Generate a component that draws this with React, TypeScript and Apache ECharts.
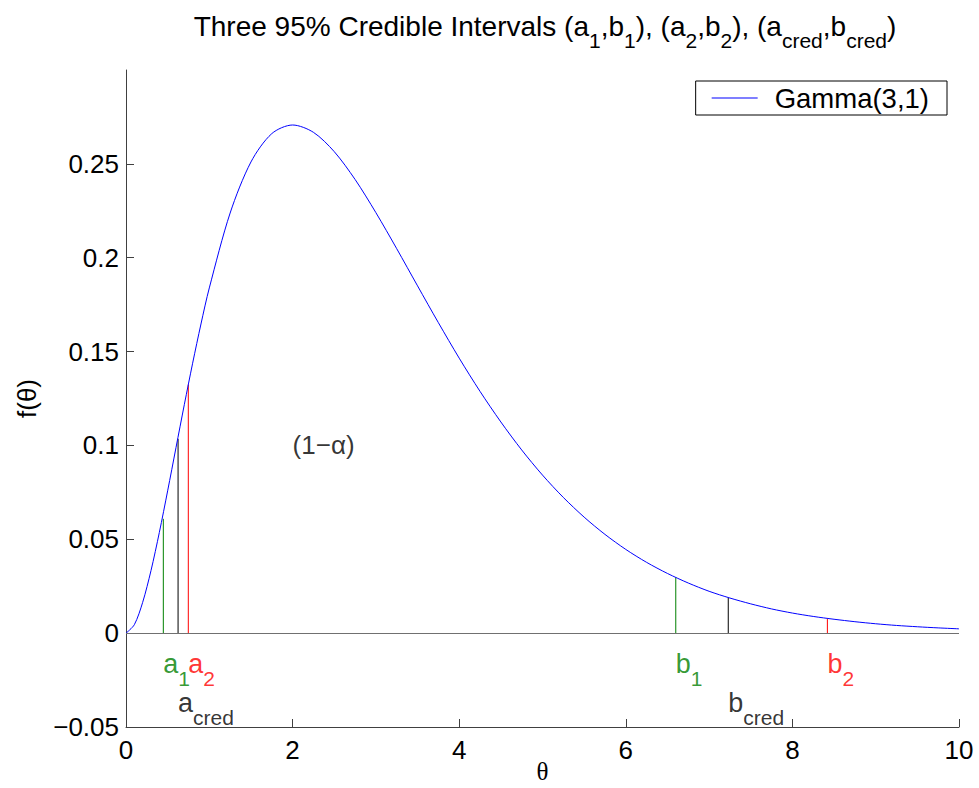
import React, { useEffect, useRef } from "react";
import * as echarts from "echarts";

// Gamma(3,1) density
const thetaValues = [
  0, 0.1, 0.2, 0.3, 0.4, 0.5, 0.6, 0.7, 0.8, 0.9, 1, 1.25, 1.5, 1.75, 2, 2.25, 2.5,
  2.75, 3, 3.25, 3.5, 3.75, 4, 4.25, 4.5, 4.75, 5, 5.25, 5.5, 5.75, 6, 6.25, 6.5,
  6.75, 7, 7.25, 7.5, 7.75, 8, 8.25, 8.5, 8.75, 9, 9.25, 9.5, 9.75, 10,
];
const densityValues = [
  0, 0.0045, 0.0164, 0.0333, 0.0536, 0.0758, 0.0988, 0.1217, 0.1438, 0.1647, 0.1839,
  0.2238, 0.251, 0.2661, 0.2707, 0.2668, 0.2565, 0.2417, 0.224, 0.2048, 0.185,
  0.1654, 0.1465, 0.1288, 0.1125, 0.0976, 0.0842, 0.0723, 0.0618, 0.0526, 0.0446,
  0.0377, 0.0318, 0.0267, 0.0223, 0.0187, 0.0156, 0.0129, 0.0107, 0.0089, 0.0074,
  0.0061, 0.005, 0.0041, 0.0034, 0.0028, 0.0023,
];

// interval bounds
const boundLetters = ["a", "a", "a", "b", "b", "b"];
const boundSubs = ["1", "2", "cred", "1", "2", "cred"];
const boundTheta = [0.448, 0.748, 0.625, 6.6, 8.42, 7.23];
const boundDensity = [0.0609, 0.1324, 0.1035, 0.0297, 0.0075, 0.0188];

const yTickValues = [-0.05, 0, 0.05, 0.1, 0.15, 0.2, 0.25];
const xTickValues = [0, 2, 4, 6, 8, 10];

const annotationText = "(1−α)";
const annotationPoint = [2.0, 0.1];

const SANS = '"Liberation Sans", Arial, Helvetica, sans-serif';
const SERIF = '"Liberation Serif", "DejaVu Serif", Times, serif';
const FS = 26;
const LBLFS = 27;
const SUBFS = 21;
const SUBPAD = 28;
const AXIS_COLOR = "#404040";

const colorFor = (sub: string) =>
  sub === "1" ? "#008000" : sub === "2" ? "#ff0000" : "#000000";
const rowFor = (sub: string) => (sub === "cred" ? -0.0373 : -0.0165);

export default function App() {
  const ref = useRef<HTMLDivElement>(null);

  useEffect(() => {
    if (!ref.current) return;
    const chart = echarts.init(ref.current, undefined, { renderer: "svg" });

    const curve = thetaValues.map((t, i) => [t, densityValues[i]]);

    const boundSeries = boundTheta.map((t, i) => ({
      type: "line",
      data: [
        [t, 0],
        [t, boundDensity[i]],
      ],
      symbol: "none",
      silent: true,
      lineStyle: { color: colorFor(boundSubs[i]), width: 1 },
      z: 3,
    }));

    const labelSeries = boundTheta.map((t, i) => {
      const c = colorFor(boundSubs[i]);
      return {
        type: "scatter",
        data: [[t, rowFor(boundSubs[i])]],
        symbolSize: 0,
        silent: true,
        itemStyle: { color: "transparent" },
        label: {
          show: true,
          position: "right",
          distance: 0,
          formatter: `{m|${boundLetters[i]}}{s|${boundSubs[i]}}`,
          rich: {
            m: { fontSize: LBLFS, fontFamily: SANS, color: c },
            s: { fontSize: SUBFS, fontFamily: SANS, color: c, padding: [SUBPAD, 0, 0, 0] },
          },
        },
      };
    });

    const option: any = {
      animation: false,
      backgroundColor: "#ffffff",
      grid: {
        left: 126,
        right: 20,
        top: 70,
        bottom: 61,
        containLabel: false,
        outerBoundsMode: "none",
      },
      legend: {
        data: [{ name: "Gamma(3,1)", icon: "rect" }],
        right: 32,
        top: 81,
        padding: [3, 18, 3, 16],
        itemWidth: 46,
        itemHeight: 1,
        borderColor: "#000",
        borderWidth: 1,
        borderRadius: 0,
        backgroundColor: "#fff",
        selectedMode: false,
        itemStyle: { color: "#0000ff", borderWidth: 0 },
        textStyle: { fontSize: 27.5, fontFamily: SANS, color: "#000", padding: [0, 0, 0, 12] },
      },
      graphic: [
        {
          type: "text",
          x: 545,
          y: 26,
          style: {
            text:
              "Three 95% Credible Intervals (a{s|1},b{s|1}), (a{s|2},b{s|2}), (a{s|cred},b{s|cred})",
            fontSize: 28,
            fontFamily: SANS,
            fill: "#000",
            align: "center",
            verticalAlign: "middle",
            rich: {
              s: { fontSize: SUBFS, fontFamily: SANS, fill: "#000", padding: [SUBPAD, 0, 0, 0] },
            },
          },
        },
      ],
      xAxis: {
        type: "value",
        min: 0,
        max: 10,
        interval: 2,
        name: "θ",
        nameLocation: "middle",
        nameGap: 32,
        nameMoveOverlap: false,
        nameTextStyle: { fontSize: 25, fontFamily: SERIF, color: "#000" },
        axisLine: { show: true, onZero: false, lineStyle: { color: AXIS_COLOR, width: 1 } },
        axisTick: { show: true, inside: true, length: 8, lineStyle: { color: AXIS_COLOR } },
        axisLabel: {
          show: true,
          margin: 10,
          fontSize: FS,
          fontFamily: SANS,
          color: "#000",
          customValues: xTickValues,
          formatter: (v: number) => String(v),
        },
        splitLine: { show: false },
      },
      yAxis: {
        type: "value",
        min: -0.05,
        max: 0.3,
        interval: 0.05,
        name: "f(θ)",
        nameLocation: "middle",
        nameRotate: 90,
        nameGap: 86,
        nameMoveOverlap: false,
        nameTextStyle: { fontSize: FS, fontFamily: SANS, color: "#000" },
        axisLine: { show: true, onZero: false, lineStyle: { color: AXIS_COLOR, width: 1 } },
        axisTick: {
          show: true,
          inside: true,
          length: 8,
          lineStyle: { color: AXIS_COLOR },
          customValues: yTickValues,
        },
        axisLabel: {
          show: true,
          margin: 7,
          fontSize: FS,
          fontFamily: SANS,
          color: "#000",
          customValues: yTickValues,
          formatter: (v: number) => {
            if (v > 0.27) return "";
            const s = String(Number(Math.abs(v).toFixed(2)));
            return v < -1e-9 ? "−" + s : s;
          },
        },
        splitLine: { show: false },
      },
      series: [
        {
          name: "Gamma(3,1)",
          type: "line",
          data: curve,
          symbol: "none",
          smooth: 0.3,
          lineStyle: { color: "#0000ff", width: 1 },
          itemStyle: { color: "#0000ff" },
          z: 4,
          markLine: {
            silent: true,
            symbol: ["none", "none"],
            label: { show: false },
            lineStyle: { color: "#707070", width: 1, type: "solid" },
            data: [{ yAxis: 0 }],
          },
        },
        ...boundSeries,
        ...labelSeries,
        {
          type: "scatter",
          data: [annotationPoint],
          symbolSize: 0,
          silent: true,
          itemStyle: { color: "transparent" },
          label: {
            show: true,
            position: "right",
            distance: 0,
            formatter: annotationText,
            fontSize: FS,
            fontFamily: SANS,
            color: "#000",
          },
        },
      ],
    };

    chart.setOption(option);
    return () => chart.dispose();
  }, []);

  return (
    <div
      ref={ref}
      style={{ position: "absolute", left: 0, top: 0, width: 979, height: 788 }}
    />
  );
}
